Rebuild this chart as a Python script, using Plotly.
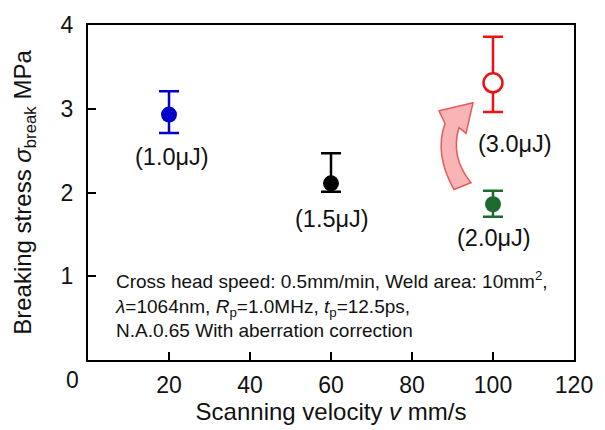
import plotly.graph_objects as go

# ---- data ----
velocity = [20, 60, 100, 100]
stress = [2.93, 2.11, 3.31, 1.86]
err_plus = [0.28, 0.36, 0.55, 0.16]
err_minus = [0.22, 0.10, 0.35, 0.15]
energy_labels = ["(1.0μJ)", "(1.5μJ)", "(3.0μJ)", "(2.0μJ)"]
x_ticks = [20, 40, 60, 80, 100, 120]
y_ticks = [1, 2, 3, 4]

# ---- styles ----
colors = ["#0000CC", "#000000", "#EE1111", "#1E6B30"]
filled = [True, True, False, True]
label_shift = [(3, -42), (1, -36), (22, -61), (1, -34)]

FONT = "Arial, Liberation Sans, sans-serif"
W, H = 605, 430
L, R, T, B = 88, 31, 21, 69
XR = (0, 120)
YR = (0, 4)

fig = go.Figure()
for i in range(len(velocity)):
    fig.add_trace(go.Scatter(
        x=[velocity[i]], y=[stress[i]], mode="markers",
        marker=dict(
            size=16 if filled[i] else 19,
            color=colors[i] if filled[i] else "white",
            line=dict(color=colors[i], width=0 if filled[i] else 2.5),
        ),
        error_y=dict(type="data", symmetric=False, array=[err_plus[i]],
                     arrayminus=[err_minus[i]], color=colors[i],
                     thickness=2.5, width=10),
        showlegend=False, cliponaxis=False,
    ))

annotations = []
for i, lab in enumerate(energy_labels):
    annotations.append(dict(
        x=velocity[i], y=stress[i], xref="x", yref="y", text=lab,
        showarrow=False, xshift=label_shift[i][0], yshift=label_shift[i][1],
        xanchor="center", yanchor="middle",
        font=dict(family=FONT, size=23.5, color="#111111"),
    ))

# text box (conditions)
info_lines = [
    "Cross head speed: 0.5mm/min, Weld area: 10mm<sup>2</sup>,",
    "<i>λ</i>=1064nm, <i>R</i><sub>p</sub>=1.0MHz, <i>t</i><sub>p</sub>=12.5ps,",
    "N.A.0.65 With aberration correction",
]
pw = W - L - R
ph = H - T - B
annotations.append(dict(
    x=(113 - L) / pw, y=(H - B - 305) / ph, xref="paper", yref="paper",
    xanchor="left", yanchor="middle", align="left",
    text="<br>".join(info_lines), showarrow=False,
    font=dict(family=FONT, size=19, color="#111111"),
))

# shared corner "0" label
annotations.append(dict(
    x=0, y=0, xref="paper", yref="paper", text="0", showarrow=False,
    xanchor="center", yanchor="middle",
    xshift=-15.5, yshift=-20, font=dict(family=FONT, size=23, color="#111111"),
))


def px(xp, yp):
    xd = XR[0] + (xp - L) / pw * (XR[1] - XR[0])
    yd = YR[0] + (H - B - yp) / ph * (YR[1] - YR[0])
    return f"{xd:.3f},{yd:.4f}"


arrow_path = (
    f"M {px(454,188)} Q {px(434,152)} {px(445,121)} L {px(439,108)} "
    f"L {px(473,100)} L {px(466,131)} L {px(459,125)} "
    f"Q {px(450,155)} {px(471,181)} Z"
)
shapes = [dict(type="path", xref="x", yref="y", path=arrow_path,
               fillcolor="rgba(248,168,168,0.85)",
               line=dict(color="#E85858", width=1.5), layer="below")]

fig.update_layout(
    width=W, height=H,
    margin=dict(l=L, r=R, t=T, b=B),
    paper_bgcolor="white", plot_bgcolor="white",
    font=dict(family=FONT, size=23, color="#111111"),
    annotations=annotations, shapes=shapes,
    xaxis=dict(
        range=list(XR), tickvals=x_ticks, ticktext=[str(v) for v in x_ticks],
        ticks="inside", ticklen=8, tickwidth=2, tickcolor="black",
        showline=True, linewidth=2, linecolor="black", mirror=True,
        showgrid=False, zeroline=False, ticklabelstandoff=3,
        tickfont=dict(size=23),
        title=dict(text="Scanning velocity <i>v</i> mm/s", standoff=4,
                   font=dict(size=24)),
    ),
    yaxis=dict(
        range=list(YR), tickvals=y_ticks, ticktext=[str(v) for v in y_ticks],
        ticks="inside", ticklen=8, tickwidth=2, tickcolor="black",
        showline=True, linewidth=2, linecolor="black", mirror=True,
        showgrid=False, zeroline=False, ticklabelstandoff=8,
        tickfont=dict(size=23),
        title=dict(text="Breaking stress <i>σ</i><sub>break</sub> MPa",
                   standoff=22, font=dict(size=24)),
    ),
)

fig.write_html("out.html")
